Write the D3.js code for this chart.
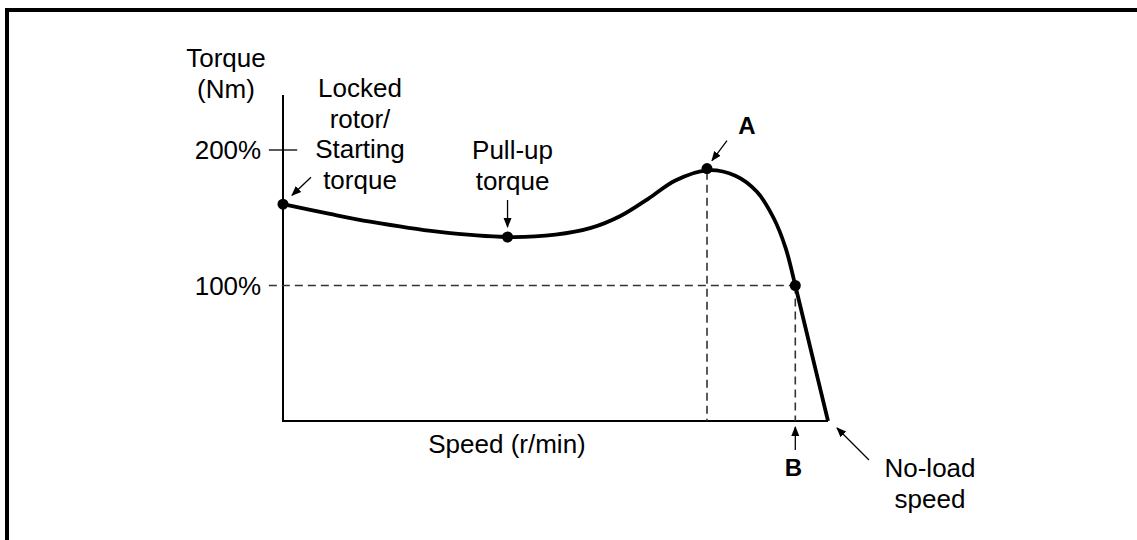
<!DOCTYPE html>
<html>
<head>
<meta charset="utf-8">
<script src="https://cdn.jsdelivr.net/npm/d3@7"></script>
<style>
    html, body { margin: 0; padding: 0; background: #fff; }
    svg text { font-family: "Liberation Sans", Arial, sans-serif; fill: #000; }
</style>
</head>
<body>
<script>
// speed in % of no-load speed, torque in % of rated torque
var speed = [0, 8.6, 16.0, 28.3, 41.2, 50.0, 56.5, 62.0, 67.0, 72.0, 77.8, 83.0, 87.0, 90.0, 92.2, 94.0, 97.0, 100];
var torque = [160, 152.8, 147.1, 139.7, 135.8, 137.5, 142.5, 151.5, 164.0, 177.5, 185.0, 181.0, 169.0, 150.0, 128.0, 100, 50, 0];
var yTicks = [100, 200];
var yTickLabels = ["100%", "200%"];

// marked points: locked rotor, pull-up, A (breakdown), B (rated)
var keyPoints = [
    { s: 0, t: 160 },
    { s: 41.2, t: 135.8 },
    { s: 77.8, t: 186.3 },
    { s: 94.0, t: 100 }
];

var width = 1137,
    height = 540;

var svg = d3.select("body").append("svg")
    .attr("width", width)
    .attr("height", height);

var defs = svg.append("defs");
defs.append("marker")
    .attr("id", "arrow")
    .attr("viewBox", "0 0 10 10")
    .attr("refX", 9)
    .attr("refY", 5)
    .attr("markerWidth", 10)
    .attr("markerHeight", 10)
    .attr("markerUnits", "userSpaceOnUse")
    .attr("orient", "auto")
    .append("path")
    .attr("d", "M0,1 L10,5 L0,9 Z")
    .attr("fill", "#000");

// frame: top and left edges only
svg.append("path")
    .attr("d", "M7,540 V10 H1137")
    .attr("fill", "none")
    .attr("stroke", "#000")
    .attr("stroke-width", 4);

var x = d3.scaleLinear().domain([0, 100]).range([283, 828]);
var y = d3.scaleLinear().domain([0, 200]).range([421, 150]);

var g = svg.append("g");

// axes
g.append("line")
    .attr("x1", x(0)).attr("x2", x(0))
    .attr("y1", y(0)).attr("y2", y(240.5))
    .attr("stroke", "#000").attr("stroke-width", 2);
g.append("line")
    .attr("x1", x(0) - 1).attr("x2", x(100))
    .attr("y1", y(0)).attr("y2", y(0))
    .attr("stroke", "#000").attr("stroke-width", 2);

// 200% tick
g.append("line")
    .attr("x1", x(-2.6)).attr("x2", x(2.6))
    .attr("y1", y(200)).attr("y2", y(200))
    .attr("stroke", "#000").attr("stroke-width", 1.3);

g.selectAll(".ytick")
    .data(yTicks)
    .enter().append("text")
    .attr("class", "ytick")
    .attr("x", x(-4))
    .attr("y", function (d) { return y(d) + 9; })
    .attr("text-anchor", "end")
    .style("font-size", "26px")
    .text(function (d, i) { return yTickLabels[i]; });

// dashed guide lines
var dash = function (x1, y1, x2, y2) {
    g.append("line")
        .attr("x1", x(x1)).attr("y1", y(y1))
        .attr("x2", x(x2)).attr("y2", y(y2))
        .attr("stroke", "#333")
        .attr("stroke-width", 1.6)
        .attr("stroke-dasharray", "8,5");
};
dash(-2.6, 100, 94, 100);
dash(77.8, 184, 77.8, 0);
dash(94, 100, 94, 0);

// torque curve
var line = d3.line()
    .x(function (d, i) { return x(speed[i]); })
    .y(function (d, i) { return y(torque[i]); })
    .curve(d3.curveCatmullRom.alpha(0.5));

g.append("path")
    .datum(speed)
    .attr("d", line)
    .attr("fill", "none")
    .attr("stroke", "#000")
    .attr("stroke-width", 3.8)
    .attr("stroke-linejoin", "round");

g.selectAll(".key")
    .data(keyPoints)
    .enter().append("circle")
    .attr("class", "key")
    .attr("cx", function (d) { return x(d.s); })
    .attr("cy", function (d) { return y(d.t); })
    .attr("r", 5.5)
    .attr("fill", "#000");

// small arrows pointing at the marked points
var arrow = function (x1, y1, x2, y2) {
    g.append("line")
        .attr("x1", x1).attr("y1", y1)
        .attr("x2", x2).attr("y2", y2)
        .attr("stroke", "#000")
        .attr("stroke-width", 1.3)
        .attr("marker-end", "url(#arrow)");
};
arrow(x(0) + 28, y(160) - 27, x(0) + 9, y(160) - 9);
arrow(x(41.2), y(135.8) - 37, x(41.2), y(135.8) - 10);
arrow(x(77.8) + 20, y(186.3) - 28, x(77.8) + 5, y(186.3) - 8);
arrow(x(94), y(0) + 29, x(94), y(0) + 6);
arrow(x(100) + 41, y(0) + 39, x(100) + 9, y(0) + 7);

// text labels
var label = function (lines, cx, top, size, weight) {
    g.append("text")
        .attr("text-anchor", "middle")
        .style("font-size", size + "px")
        .style("font-weight", weight || "normal")
        .selectAll("tspan")
        .data(lines)
        .enter().append("tspan")
        .attr("x", cx)
        .attr("y", function (d, i) { return top + i * 30.5; })
        .text(function (d) { return d; });
};
label(["Torque", "(Nm)"], 226, 67, 26);
label(["Locked", "rotor/", "Starting", "torque"], 360, 97, 26);
label(["Pull-up", "torque"], x(41.2) + 5, 159, 26);
label(["A"], x(77.8) + 40, 134, 24, "bold");
label(["B"], x(94) - 2, 476, 24, "bold");
label(["No-load", "speed"], 930, 477, 26);
label(["Speed (r/min)"], 507, 453, 26);
</script>
</body>
</html>
